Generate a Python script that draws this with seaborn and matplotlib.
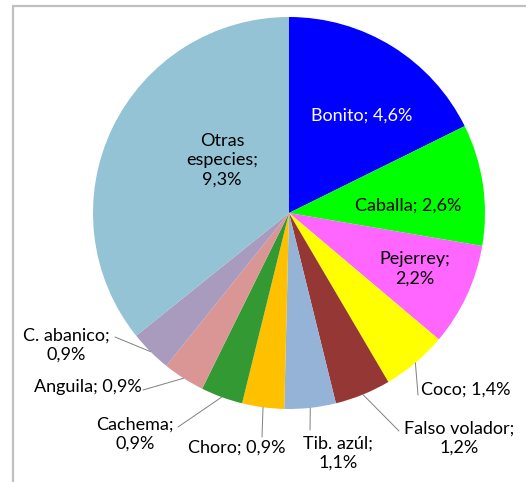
import matplotlib
matplotlib.use("Agg")
import matplotlib.pyplot as plt
import seaborn as sns
import numpy as np
from matplotlib.lines import Line2D

# ---- data ----
species = ["Bonito", "Caballa", "Pejerrey", "Coco", "Falso volador", "Tib. azúl",
           "Choro", "Cachema", "Anguila", "C. abanico", "Otras especies"]
percent = [4.6, 2.6, 2.2, 1.4, 1.2, 1.1, 0.9, 0.9, 0.9, 0.9, 9.3]
colors = ["#0000FF", "#00FF00", "#FF66FF", "#FFFF00", "#953735", "#95B3D7",
          "#FFC000", "#339933", "#D99694", "#A99BBD", "#93C3D4"]
label_breaks = ["; ", "; ", ";\n", "; ", ";\n", ";\n", "; ", ";\n", "; ", ";\n", ";\n"]
label_colors = ["white"] + ["black"] * 10

# ---- layout (pixels, y from top) ----
W, H = 526, 482
center = (289, 213)
radius = 196
label_pos = [(362, 116), (408, 206), (415, 269), (466, 390), (459, 438), (338, 453),
             (237, 448), (135, 434), (88, 387), (66, 345), (222, 160)]
leader_end = [None, None, None, (418, 395), (399, 431), (310, 430),
              (262, 437), (178, 427), (143, 390), (115, 337), None]

sns.set_theme(style="white")
plt.rcParams["font.family"] = ["Lato", "DejaVu Sans"]

fig = plt.figure(figsize=(W / 100, H / 100), dpi=100)
ax = fig.add_axes([0, 0, 1, 1])
ax.set_xlim(0, W)
ax.set_ylim(0, H)
ax.axis("off")

def px(x, y):
    return x, H - y

wedges, _ = ax.pie(percent, colors=colors, startangle=90, counterclock=False,
                   center=px(*center), radius=radius, frame=True,
                   wedgeprops=dict(linewidth=0))
ax.set_xlim(0, W)
ax.set_ylim(0, H)
ax.set_aspect("equal")
ax.axis("off")

for i, (name, val) in enumerate(zip(species, percent)):
    if name == "Otras especies":
        txt = "Otras\nespecies;\n" + f"{val:.1f}".replace(".", ",") + "%"
    else:
        txt = name + label_breaks[i] + f"{val:.1f}".replace(".", ",") + "%"
    ax.text(*px(*label_pos[i]), txt, ha="center", va="center", fontsize=13,
            color=label_colors[i], linespacing=1.25, multialignment="center")
    if leader_end[i] is not None:
        w = wedges[i]
        mid = np.deg2rad((w.theta1 + w.theta2) / 2)
        cx, cy = w.center
        sx, sy = cx + radius * np.cos(mid), cy + radius * np.sin(mid)
        ex, ey = px(*leader_end[i])
        ax.plot([sx, ex], [sy, ey], color="#808080", lw=0.7)

# frame (left and top edges visible)
fig.add_artist(Line2D([12.5 / W, 12.5 / W], [0, 1 - 5.5 / H], transform=fig.transFigure,
                      color="#C0C0C0", lw=1.6))
fig.add_artist(Line2D([12.5 / W, 1], [1 - 5.5 / H, 1 - 5.5 / H], transform=fig.transFigure,
                      color="#C0C0C0", lw=1.6))

fig.savefig("out.png", dpi=100)
